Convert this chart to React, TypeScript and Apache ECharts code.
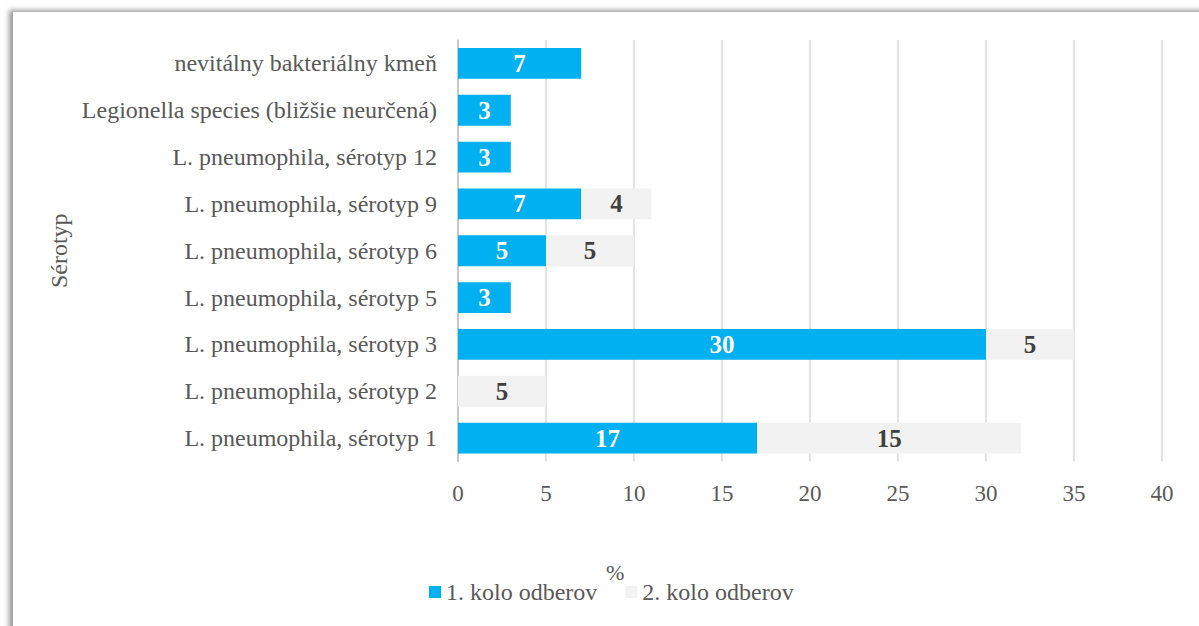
import React, { useEffect, useRef } from "react";
import * as echarts from "echarts";

const categories = [
  "L. pneumophila, sérotyp 1",
  "L. pneumophila, sérotyp 2",
  "L. pneumophila, sérotyp 3",
  "L. pneumophila, sérotyp 5",
  "L. pneumophila, sérotyp 6",
  "L. pneumophila, sérotyp 9",
  "L. pneumophila, sérotyp 12",
  "Legionella species (bližšie neurčená)",
  "nevitálny bakteriálny kmeň",
];
const round1 = [17, null, 30, 3, 5, 7, 3, 3, 7];
const round2 = [15, 5, 5, null, 5, 4, null, null, null];
const seriesNames = ["1. kolo odberov", "2. kolo odberov"];
const xTicks = { min: 0, max: 40, interval: 5 };

const FONT = "Liberation Serif";

export default function App() {
  const ref = useRef<HTMLDivElement>(null);
  useEffect(() => {
    if (!ref.current) return;
    const chart = echarts.init(ref.current, undefined, { renderer: "svg" });
    chart.setOption({
      animation: false,
      textStyle: { fontFamily: FONT },
      grid: { left: 458, right: 37, top: 40, bottom: 164.5, containLabel: false },
      legend: {
        data: seriesNames,
        left: 424,
        top: 575,
        itemWidth: 12,
        itemHeight: 12,
        itemGap: 28,
        icon: "rect",
        textStyle: { fontFamily: FONT, fontSize: 24, color: "#595959" },
      },
      graphic: [
        {
          type: "text",
          left: 606,
          top: 561,
          style: { text: "%", fontFamily: FONT, fontSize: 22, fill: "#595959" },
        },
      ],
      xAxis: {
        type: "value",
        min: xTicks.min,
        max: xTicks.max,
        interval: xTicks.interval,
        axisLine: { show: false },
        axisTick: { show: false },
        axisLabel: { fontFamily: FONT, fontSize: 23, color: "#595959", margin: 20 },
        splitLine: { show: true, lineStyle: { color: "#d9d9d9", width: 1.5 } },
      },
      yAxis: {
        type: "category",
        data: categories,
        name: "Sérotyp",
        nameLocation: "middle",
        nameGap: 383,
        nameRotate: 90,
        nameTextStyle: { fontFamily: FONT, fontSize: 24, color: "#595959" },
        axisLine: { show: true, lineStyle: { color: "#bfbfbf", width: 1.5 } },
        axisTick: { show: false },
        axisLabel: { fontFamily: FONT, fontSize: 24, color: "#595959", margin: 21 },
      },
      series: [
        {
          name: seriesNames[0],
          type: "bar",
          stack: "total",
          data: round1,
          barWidth: "66%",
          itemStyle: { color: "#00b0f0" },
          label: {
            show: true,
            position: "inside",
            fontFamily: FONT,
            fontSize: 25,
            fontWeight: "bold",
            color: "#ffffff",
          },
        },
        {
          name: seriesNames[1],
          type: "bar",
          stack: "total",
          data: round2,
          barWidth: "66%",
          itemStyle: { color: "#f2f2f2" },
          label: {
            show: true,
            position: "inside",
            fontFamily: FONT,
            fontSize: 25,
            fontWeight: "bold",
            color: "#404040",
          },
        },
      ],
    });
    return () => chart.dispose();
  }, []);

  return (
    <div style={{ position: "fixed", left: 0, top: 0, width: 1199, height: 626, background: "#ffffff", overflow: "hidden" }}>
      <div
        style={{
          position: "absolute",
          left: 13,
          top: 12,
          width: 1240,
          height: 700,
          background: "#ffffff",
          boxShadow: "-4px -2px 5px rgba(0,0,0,0.4)",
        }}
      />
      <div ref={ref} style={{ position: "absolute", left: 0, top: 0, width: 1199, height: 626 }} />
    </div>
  );
}
